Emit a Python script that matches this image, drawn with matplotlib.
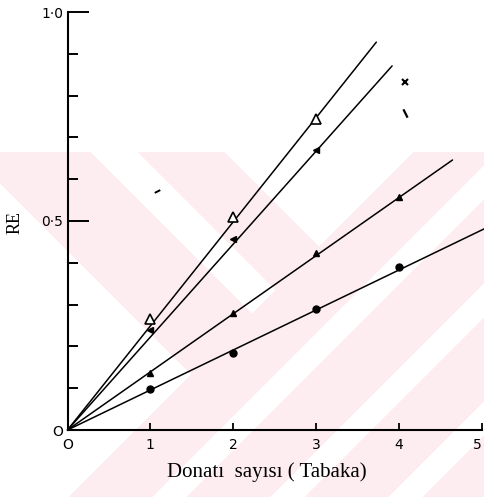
import numpy as np
import matplotlib
matplotlib.use("Agg")
import matplotlib.pyplot as plt
from matplotlib.path import Path
from matplotlib.ticker import FixedLocator

# ---- data -------------------------------------------------------------
layers = [1, 2, 3, 4]

re_open_tri = [0.265, 0.510, 0.745]          # open triangles
re_filled_tri = [0.239, 0.457, 0.670]        # filled triangles
re_small_tri = [0.136, 0.280, 0.423, 0.557]  # small marks
re_circles = [0.098, 0.185, 0.290, 0.390]    # filled circles

# end points of the fitted lines (all start at the origin)
fit_end_x = [3.73, 3.92, 4.65, 5.03]
fit_end_y = [0.928, 0.871, 0.646, 0.481]

# loose marks on the sheet
stray_x = [4.07]
stray_y = [0.833]
stroke_back_x = [4.08]
stroke_back_y = [0.758]
stroke_fwd_x = [1.08]
stroke_fwd_y = [0.572]

x_ticks = [0, 1, 2, 3, 4, 5]
x_tick_labels = ["O", "1", "2", "3", "4", "5"]
y_major = [0, 0.5, 1.0]
y_major_labels = ["O", "0\u00b75", "1\u00b70"]
y_minor = [0.1, 0.2, 0.3, 0.4, 0.6, 0.7, 0.8, 0.9]

# ---- figure -----------------------------------------------------------
W, H = 484, 497
fig = plt.figure(figsize=(W / 100, H / 100), dpi=100, facecolor="white")

# faint striped background stamp
yy, xx = np.mgrid[0:H, 0:W] + 0.5
u = xx - yy
v = xx + yy
left_zone = v < 566
pink_left = (u >= -183) & (u <= 72) & ~((u > -62) & (u < -14))
pink_right = ((v - 566) % 118) < 84
pink = (yy >= 152) & np.where(left_zone, pink_left, pink_right)
bg = np.ones((H, W, 3))
bg[pink] = np.array([253, 237, 241]) / 255.0
im = fig.figimage(bg, xo=0, yo=0, origin="upper")
im.set_zorder(-5)

ax = fig.add_axes([67.5 / W, 67 / H, (W - 67.5) / W, 418 / H])
ax.set_facecolor("none")
ax.set_xlim(0, 5.03)
ax.set_ylim(0, 1.0)

for side in ("top", "right"):
    ax.spines[side].set_visible(False)
ax.spines["left"].set_bounds(0, 1.0)
ax.spines["bottom"].set_bounds(0, 5)
for side in ("left", "bottom"):
    ax.spines[side].set_linewidth(1.5)
    ax.spines[side].set_color("black")

ax.xaxis.set_major_locator(FixedLocator(x_ticks))
ax.set_xticklabels(x_tick_labels)
ax.yaxis.set_major_locator(FixedLocator(y_major))
ax.set_yticklabels(y_major_labels)
ax.yaxis.set_minor_locator(FixedLocator(y_minor))

ax.tick_params(axis="x", direction="in", length=5, width=1.3, pad=6,
               labelsize=10, colors="black")
ax.tick_params(axis="y", which="major", direction="in", length=15, width=1.4,
               pad=3, labelsize=10)
ax.tick_params(axis="y", which="minor", direction="in", length=7.5, width=1.4)
# keep the last x label inside the sheet edge
ax.get_xticklabels()[-1].set_horizontalalignment("right")

# fitted lines through the origin
for ex, ey in zip(fit_end_x, fit_end_y):
    ax.plot([0, ex], [0, ey], color="black", lw=1.1, clip_on=False,
            solid_capstyle="round")

ax.plot(layers[:3], re_open_tri, ls="none", marker="^", ms=6.5,
        mfc="white", mec="black", mew=1.2, clip_on=False)
ax.plot(layers[:3], re_filled_tri, ls="none", marker="<", ms=5,
        mfc="black", mec="black", clip_on=False)
ax.plot(layers, re_small_tri, ls="none", marker="^", ms=4,
        mfc="black", mec="black", clip_on=False)
ax.plot(layers, re_circles, ls="none", marker="o", ms=5,
        mfc="black", mec="black", clip_on=False)
ax.plot(stray_x, stray_y, ls="none", marker="x", ms=5, mew=1.5,
        color="black", clip_on=False)

back_stroke = Path([(-0.5, 1.0), (0.5, -1.0)], [Path.MOVETO, Path.LINETO])
fwd_stroke = Path([(-1.0, -0.5), (1.0, 0.5)], [Path.MOVETO, Path.LINETO])
ax.plot(stroke_back_x, stroke_back_y, ls="none", marker=back_stroke, ms=6,
        mew=1.6, mec="black", clip_on=False)
ax.plot(stroke_fwd_x, stroke_fwd_y, ls="none", marker=fwd_stroke, ms=4,
        mew=1.4, mec="black", clip_on=False)

fig.text(267 / W, 1 - 472 / H, "Donat\u0131  say\u0131s\u0131 ( Tabaka)",
         ha="center", va="center", fontsize=15, family="Liberation Serif")
fig.text(15 / W, 1 - 222 / H, "RE", ha="center", va="center", rotation=90,
         fontsize=13, family="Liberation Serif")

fig.savefig("out.png", dpi=100, facecolor="white")
